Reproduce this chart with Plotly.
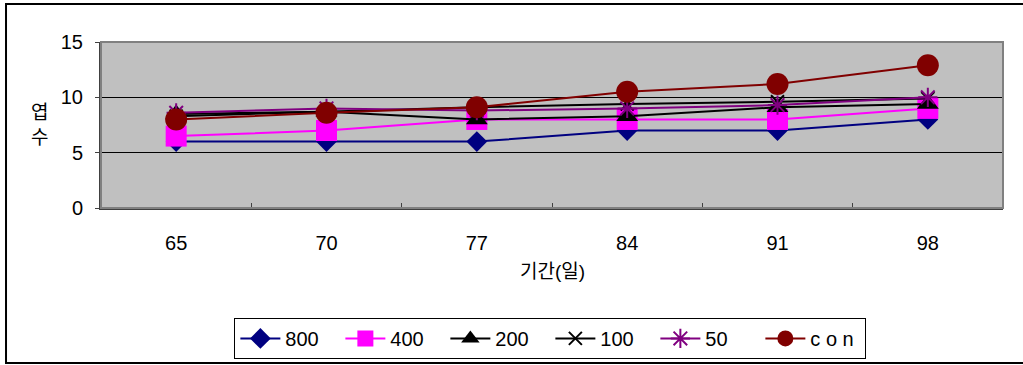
import plotly.graph_objects as go

# Periods (days) on the x axis and leaf counts per treatment
days = ["65", "70", "77", "84", "91", "98"]
s800 = [6, 6, 6, 7, 7, 8]
s400 = [6.5, 7, 8, 8, 8, 9]
s200 = [8.5, 8.7, 8, 8.3, 9.1, 9.4]
s100 = [8.3, 8.7, 9.1, 9.4, 9.6, 9.9]
s50 = [8.6, 9.0, 8.8, 9.0, 9.3, 10.0]
scon = [8, 8.6, 9.1, 10.5, 11.2, 12.9]

series = [
    ("800", s800, "#000080", dict(symbol="diamond", size=16)),
    ("400", s400, "#FF00FF", dict(symbol="square", size=21)),
    ("200", s200, "#000000", dict(symbol="triangle-up", size=19)),
    ("100", s100, "#000000", dict(symbol="x-thin-open", size=13, line=dict(width=2, color="#000000"))),
    ("50", s50, "#800080", dict(symbol="asterisk-open", size=16, line=dict(width=2, color="#800080"))),
    ("c o n", scon, "#800000", dict(symbol="circle", size=22)),
]

fig = go.Figure()
for name, vals, color, mk in series:
    marker = dict(color=color, **mk)
    fig.add_trace(go.Scatter(
        x=days, y=vals, name=name, mode="lines+markers",
        line=dict(color=color, width=2), marker=marker,
    ))

FONT = "Liberation Sans, Noto Sans CJK KR, Arial, sans-serif"

fig.update_layout(
    width=1023, height=365,
    margin=dict(l=101, r=20, t=42, b=157),
    paper_bgcolor="white",
    plot_bgcolor="#C0C0C0",
    font=dict(family=FONT, size=20, color="black"),
    showlegend=True,
    legend=dict(
        orientation="h", xref="container", yref="container",
        x=0.538, xanchor="center", y=0.129, yanchor="top",
        bordercolor="black", borderwidth=1, bgcolor="white",
        font=dict(family=FONT, size=20), itemwidth=40,
        entrywidth=50, entrywidthmode="pixels",
        tracegroupgap=0,
    ),
    xaxis=dict(
        type="category", tickson="boundaries", ticks="inside", ticklen=5,
        tickcolor="#404040", showgrid=False, showline=True, linecolor="#404040",
        linewidth=2, range=[-0.5, 5.5], ticklabelstandoff=16,
        tickfont=dict(size=20), automargin=False,
    ),
    yaxis=dict(
        range=[0, 15], dtick=5, showgrid=True, gridcolor="#000000", gridwidth=1,
        showline=True, linecolor="#404040", linewidth=2, ticks="outside",
        ticklen=4, tickcolor="#404040", zeroline=False,
        tickfont=dict(size=20), ticklabelstandoff=8, automargin=False,
    ),
    shapes=[
        # outer chart frame
        dict(type="rect", xref="paper", yref="paper",
             x0=-0.1053, x1=1.03, y0=-0.934, y1=1.229,
             line=dict(color="#000000", width=2), fillcolor="rgba(0,0,0,0)", layer="below"),
        # plot area border
        dict(type="rect", xref="paper", yref="paper", x0=0, x1=1, y0=0, y1=1,
             line=dict(color="#808080", width=2), fillcolor="rgba(0,0,0,0)", layer="above"),
    ],
    annotations=[
        dict(text="엽<br>수", xref="paper", yref="paper", x=-0.068, y=0.5,
             xanchor="center", yanchor="middle",
             showarrow=False, font=dict(size=19), align="center"),
        dict(text="기간(일)", xref="paper", yref="paper", x=0.501, y=-0.385,
             xanchor="center", yanchor="middle",
             showarrow=False, font=dict(size=19)),
    ],
)

fig.write_html("out.html")
